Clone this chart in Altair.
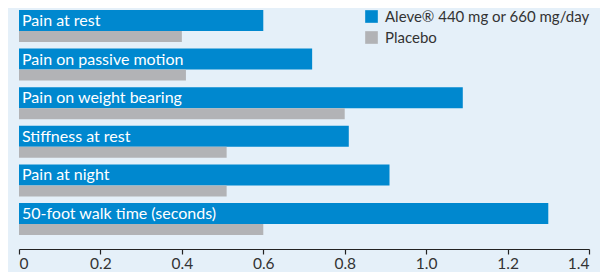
import altair as alt
import pandas as pd

categories = [
    "Pain at rest",
    "Pain on passive motion",
    "Pain on weight bearing",
    "Stiffness at rest",
    "Pain at night",
    "50-foot walk time (seconds)",
]
aleve = [0.60, 0.72, 1.09, 0.81, 0.91, 1.30]
placebo = [0.40, 0.41, 0.80, 0.51, 0.51, 0.60]
series = ["Aleve® 440 mg or 660 mg/day", "Placebo"]
colors = ["#0088cf", "#b2b3b6"]
x_ticks = [0, 0.2, 0.4, 0.6, 0.8, 1.0, 1.2, 1.4]

df_a = pd.DataFrame({"cat": categories, "value": aleve, "series": series[0]})
df_p = pd.DataFrame({"cat": categories, "value": placebo, "series": series[1]})

FONT = "Lato"

y_enc = alt.Y("cat:N", sort=categories, axis=None,
              scale=alt.Scale(domain=categories, range=[-1.3, 230.3],
                              paddingInner=0, paddingOuter=0))
x_enc = alt.X("value:Q",
              scale=alt.Scale(domain=[0, 1.4], nice=False, zero=True),
              axis=alt.Axis(values=x_ticks, title=None, grid=False,
                            domainColor="#222222", tickColor="#222222",
                            tickSize=5, domainWidth=1.2, tickWidth=1.2,
                            labelColor="#333333", labelFontSize=15.5,
                            labelFont=FONT, labelPadding=2,
                            labelExpr="datum.value == 0 ? '0' : format(datum.value, '.1f')"))
color_enc = alt.Color("series:N",
                      scale=alt.Scale(domain=series, range=colors),
                      legend=alt.Legend(title=None, orient="none",
                                        legendX=345, legendY=1,
                                        symbolType="square", symbolSize=160,
                                        symbolStrokeWidth=0, symbolOpacity=1,
                                        labelFontSize=15, labelFont=FONT,
                                        labelColor="#333333", rowPadding=5,
                                        labelOffset=6, labelLimit=400))

blue = alt.Chart(df_a).mark_bar(size=21, yOffset=-5.5).encode(
    x=x_enc, y=y_enc, color=color_enc)
grey = alt.Chart(df_p).mark_bar(size=11, yOffset=10.5).encode(
    x=x_enc, y=y_enc, color=color_enc)
labels = alt.Chart(df_a).mark_text(
    align="left", baseline="middle", dx=3, yOffset=-5.5, dy=0.5,
    color="white", fontSize=16, font=FONT).encode(
    x=alt.datum(0), y=y_enc, text="cat:N")

chart = alt.layer(blue, grey, labels).properties(
    width=570, height=241,
    background="#e5f0f9",
    autosize=alt.AutoSizeParams(type="none"),
    padding={"left": 11, "top": 0, "right": 11, "bottom": 23},
).configure_view(stroke=None)

chart.save("out.html", embed_options={"renderer": "svg", "actions": False})
